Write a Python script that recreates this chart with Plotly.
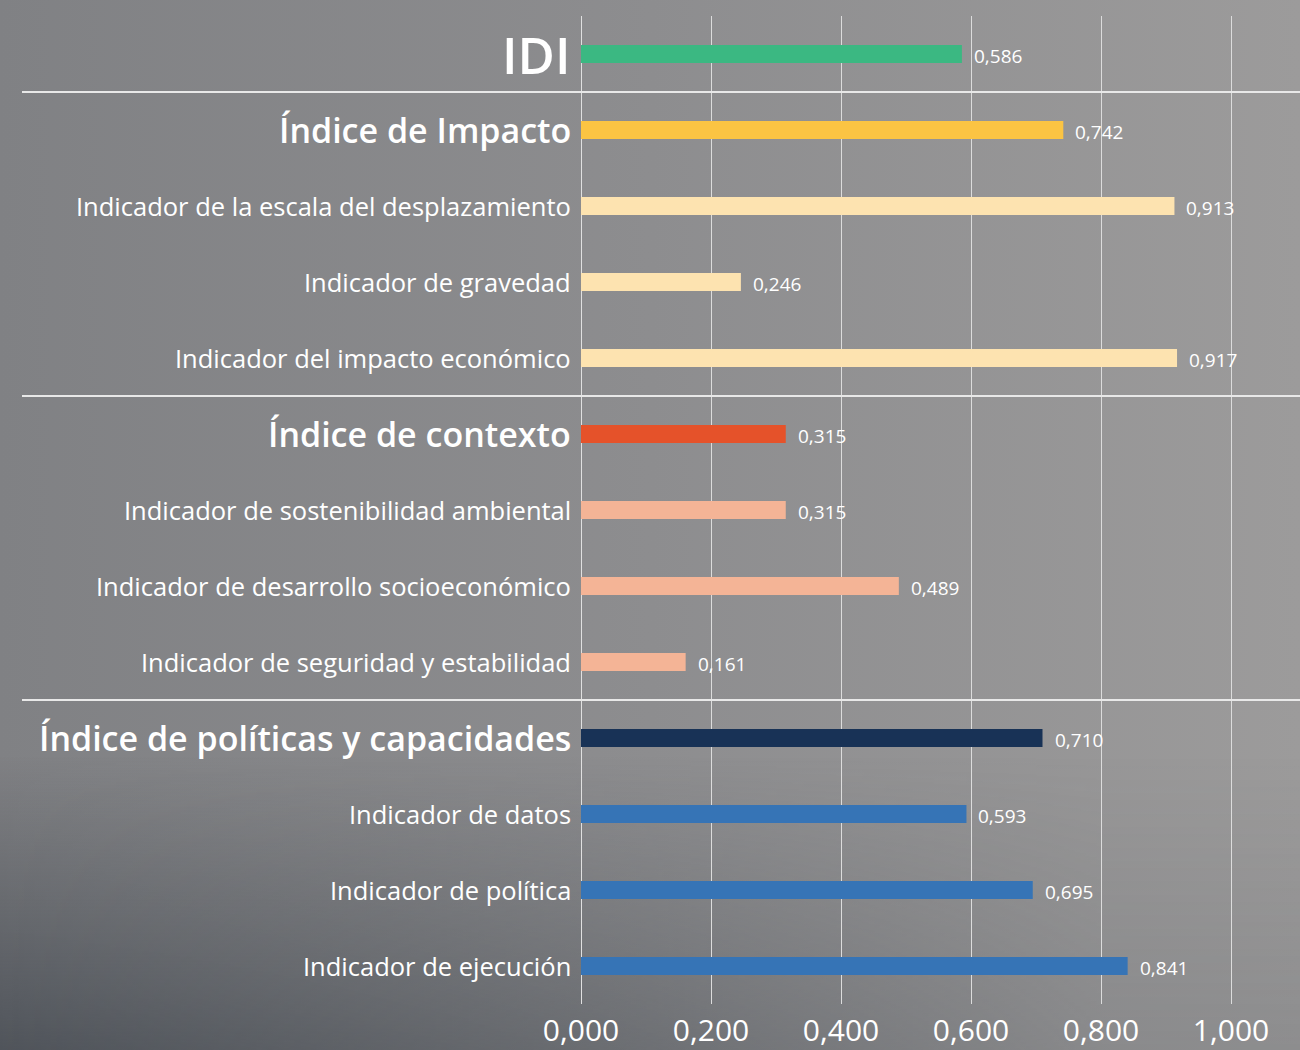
import plotly.graph_objects as go
import base64

labels = [
    "IDI",
    "Índice de Impacto",
    "Indicador de la escala del desplazamiento",
    "Indicador de gravedad",
    "Indicador del impacto económico",
    "Índice de contexto",
    "Indicador de sostenibilidad ambiental",
    "Indicador de desarrollo socioeconómico",
    "Indicador de seguridad y estabilidad",
    "Índice de políticas y capacidades",
    "Indicador de datos",
    "Indicador de política",
    "Indicador de ejecución",
]
values = [0.586, 0.742, 0.913, 0.246, 0.917, 0.315, 0.315, 0.489, 0.161, 0.710, 0.593, 0.695, 0.841]
colors = ["#3bb882", "#fbc443", "#fde3b0", "#fde3b0", "#fde3b0",
          "#e5522a", "#f4b496", "#f4b496", "#f4b496",
          "#183256", "#3674b6", "#3674b6", "#3674b6"]
levels = ["top", "index", "ind", "ind", "ind", "index", "ind", "ind", "ind",
          "index", "ind", "ind", "ind"]
tick_vals = [0, 0.2, 0.4, 0.6, 0.8, 1.0]
tick_text = ["0,000", "0,200", "0,400", "0,600", "0,800", "1,000"]

FONT = "Open Sans"

fig = go.Figure()
fig.add_bar(
    x=values, y=labels, orientation="h",
    marker=dict(color=colors, line=dict(width=0)),
    width=0.24,
)

# value labels just past each bar end
for lab, v in zip(labels, values):
    fig.add_annotation(x=v, xref="x", y=lab, yref="y",
                       text=f"{v:.3f}".replace(".", ","),
                       xanchor="left", yanchor="middle", xshift=10, yshift=-2,
                       showarrow=False,
                       font=dict(color="white", size=19, family=FONT))

# left-hand labels, sized by level
for lab, lev in zip(labels, levels):
    size = {"top": 51, "index": 34, "ind": 25.5}[lev]
    weight = 600 if lev != "ind" else 400
    fig.add_annotation(x=0, xref="paper", y=lab, yref="y", text=lab,
                       xanchor="right", yanchor="middle", xshift=-8,
                       showarrow=False,
                       font=dict(color="white", size=size, family=FONT, weight=weight))

# separators between groups
for yb in [0.5, 4.5, 8.5]:
    fig.add_shape(type="line", xref="paper", x0=(22 - 581) / 719, x1=1,
                  yref="y", y0=yb, y1=yb, line=dict(color="#e8e8e8", width=2))

svg = ('<svg xmlns="http://www.w3.org/2000/svg" width="1300" height="1050">'
       '<defs>'
       '<linearGradient id="h" x1="0" y1="0" x2="1" y2="0">'
       '<stop offset="0" stop-color="#808184"/>'
       '<stop offset="0.5" stop-color="#8d8d8f"/>'
       '<stop offset="1" stop-color="#9c9b9b"/>'
       '</linearGradient>'
       '<linearGradient id="v" x1="0" y1="0" x2="0" y2="1">'
       '<stop offset="0.72" stop-color="#474c53" stop-opacity="0"/>'
       '<stop offset="1" stop-color="#474c53" stop-opacity="0.85"/>'
       '</linearGradient>'
       '<linearGradient id="m" x1="0" y1="0" x2="1" y2="0">'
       '<stop offset="0" stop-color="white" stop-opacity="1"/>'
       '<stop offset="0.85" stop-color="white" stop-opacity="0.2"/>'
       '</linearGradient>'
       '<mask id="mk"><rect width="1300" height="1050" fill="url(#m)"/></mask>'
       '</defs>'
       '<rect width="1300" height="1050" fill="url(#h)"/>'
       '<rect width="1300" height="1050" fill="url(#v)" mask="url(#mk)"/>'
       '</svg>')
fig.add_layout_image(
    source="data:image/svg+xml;base64," + base64.b64encode(svg.encode()).decode(),
    xref="paper", yref="paper", x=-581 / 719, y=1 + 16 / 988,
    sizex=1300 / 719, sizey=1050 / 988, xanchor="left", yanchor="top",
    sizing="stretch", layer="below",
)

fig.update_layout(
    width=1300, height=1050,
    margin=dict(l=581, r=0, t=16, b=46),
    paper_bgcolor="#8a8b8d", plot_bgcolor="rgba(0,0,0,0)",
    showlegend=False,
    font=dict(family=FONT, color="white"),
)
fig.update_xaxes(range=[0, 719 / 650], tickvals=tick_vals, ticktext=tick_text,
                 showgrid=True, gridcolor="#dcdcdc", gridwidth=1.3,
                 zeroline=True, zerolinecolor="#e0e0e0", zerolinewidth=1.3,
                 tickfont=dict(size=30, color="white", family=FONT),
                 ticks="", showline=False, ticklabelstandoff=6)
fig.update_yaxes(autorange="reversed", showticklabels=False, showgrid=False,
                 zeroline=False, showline=False)

fig.write_html("out.html", config={"displayModeBar": False},
               post_script="document.body.style.margin='0';")
